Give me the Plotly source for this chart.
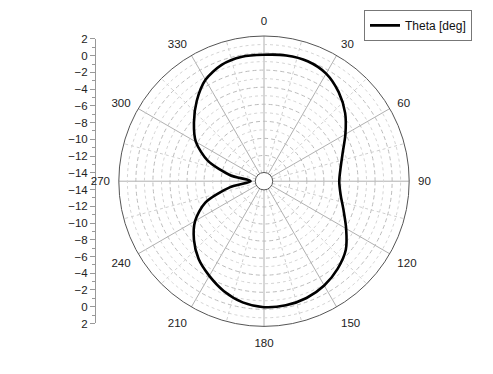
import numpy as np
import plotly.graph_objects as go

# ---- data ----
theta_deg = [0, 10, 20, 30, 40, 50, 60, 70, 80, 90, 100, 110, 120, 130, 140, 150, 160, 170,
             180, 190, 200, 210, 220, 230, 240, 250, 260, 270, 280, 290, 300, 310, 320, 330,
             340, 350, 360]
gain = [-0.2, -0.05, -0.05, -0.45, -1.4, -2.6, -4.0, -5.2, -5.9, -6.2, -5.9, -5.1, -3.9, -2.5,
        -1.6, -0.9, -0.45, -0.25, -0.25, -0.6, -1.3, -2.2, -3.1, -4.3, -5.7, -7.7, -11.0, -13.45,
        -11.0, -8.0, -5.8, -4.3, -2.75, -1.3, -0.5, -0.2, -0.2]
series_name = "Theta [deg]"

angle_ticks = [0, 30, 60, 90, 120, 150, 180, 210, 240, 270, 300, 330]
minor_spokes = [15, 45, 75, 105, 135, 165, 195, 225, 255, 285, 315, 345]
radial_ticks = [2, 0, -2, -4, -6, -8, -10, -12, -14]
minor_rings = [1, -1, -3, -5, -7, -9, -11, -13]
r_min, r_max, r_center = -14, 2, -15

FONT = "Arial, Liberation Sans, sans-serif"
W, H = 493, 374
cx, cy, R = 264, 181, 150

fig = go.Figure()

# minor dotted rings
ring_theta = list(range(0, 361, 3))
for v in minor_rings:
    fig.add_trace(go.Scatterpolar(r=[v] * len(ring_theta), theta=ring_theta, mode="lines",
                                  line=dict(color="#d4d4d4", width=1, dash="dot"),
                                  showlegend=False, hoverinfo="skip"))
# minor dotted spokes
sr, st = [], []
for a in minor_spokes:
    sr += [r_min, r_max, None]
    st += [a, a, None]
fig.add_trace(go.Scatterpolar(r=sr, theta=st, mode="lines",
                              line=dict(color="#cfcfcf", width=1, dash="dot"),
                              showlegend=False, hoverinfo="skip"))

# main curve
fig.add_trace(go.Scatterpolar(r=gain, theta=theta_deg, mode="lines", name=series_name,
                              line=dict(color="black", width=2.6, shape="spline", smoothing=0.8)))

# left radial scale as cartesian axis
pos_top = [v - r_center for v in radial_ticks]
pos_bot = [-(v - r_center) for v in radial_ticks]
tickvals = pos_top + pos_bot
ticktext = [str(v).replace("-", "\u2212") for v in radial_ticks] * 2
span = r_max - r_center
fig.add_trace(go.Scatter(x=[0, 0], y=[-span, span], mode="lines", line=dict(width=0),
                         showlegend=False, hoverinfo="skip", xaxis="x", yaxis="y"))

dom_x = [(cx - R) / W, (cx + R) / W]
dom_y = [(H - cy - R) / H, (H - cy + R) / H]
Ry = 147
dom_y_axis = [(H - cy - Ry) / H, (H - cy + Ry) / H]
axis_x = 96 / W

fig.update_layout(
    width=W, height=H,
    margin=dict(l=0, r=0, t=0, b=0),
    paper_bgcolor="white", plot_bgcolor="rgba(0,0,0,0)",
    font=dict(family=FONT, size=11, color="#222"),
    polar=dict(
        domain=dict(x=dom_x, y=dom_y),
        bgcolor="white",
        hole=9 / R,
        angularaxis=dict(rotation=90, direction="clockwise",
                         tickmode="array", tickvals=angle_ticks,
                         ticktext=[str(a) for a in angle_ticks],
                         showgrid=True, gridcolor="#b0b0b0", gridwidth=1,
                         showline=True, linecolor="#555", linewidth=1,
                         ticks="outside", ticklen=6, tickcolor="rgba(0,0,0,0)",
                         tickfont=dict(size=11.5, color="#222", family=FONT)),
        radialaxis=dict(range=[r_min, r_max], tickmode="linear", tick0=0, dtick=2,
                        showticklabels=False, showline=False, ticks="",
                        showgrid=True, gridcolor="#bcbcbc", gridwidth=1, griddash="4px,3px"),
    ),
    xaxis=dict(domain=[axis_x, axis_x + 0.005], visible=False, range=[0, 1]),
    yaxis=dict(domain=dom_y_axis, anchor="x", range=[-span, span],
               tickmode="array", tickvals=tickvals, ticktext=ticktext,
               showline=True, linecolor="#999", linewidth=1,
               ticks="outside", ticklen=5, tickcolor="#999",
               minor=dict(tickmode="linear", tick0=0, dtick=1, ticks="outside",
                          ticklen=3, tickcolor="#999"),
               showgrid=False, zeroline=False,
               tickfont=dict(size=11.5, color="#222", family=FONT)),
    legend=dict(x=364 / W, y=1 - 4 / H, xanchor="left", yanchor="top",
                bgcolor="white", bordercolor="#777", borderwidth=1,
                font=dict(size=12, color="#111", family=FONT),
                itemwidth=30, tracegroupgap=0),
    showlegend=True,
)

fig.write_html("out.html", config={"displayModeBar": False},
               post_script="document.body.style.margin='0';")
